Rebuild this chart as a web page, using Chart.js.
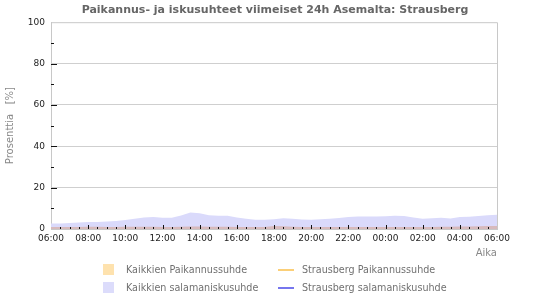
<!DOCTYPE html>
<html>
<head>
<meta charset="utf-8">
<script src="https://cdn.jsdelivr.net/npm/chart.js@4.4.1/dist/chart.umd.min.js"></script>
<style>
  body { margin: 0; background: #fff; }
  #wrap { position: relative; width: 550px; height: 300px; }
  #legend { position: absolute; left: 0; top: 0; width: 550px; height: 300px; pointer-events: none;
    font-family: "DejaVu Sans", sans-serif; font-size: 9.6px; color: #707070; }
  .item { position: absolute; white-space: nowrap; }
  .box { position: absolute; width: 11px; height: 11px; }
  .line { position: absolute; width: 16px; height: 2px; }
</style>
</head>
<body>
<div id="wrap">
  <canvas id="chart" width="550" height="300"></canvas>
  <div id="legend"></div>
</div>
<script>
const timeLabels = [
  "06:00", "06:30", "07:00", "07:30", "08:00", "08:30", "09:00", "09:30",
  "10:00", "10:30", "11:00", "11:30", "12:00", "12:30", "13:00", "13:30",
  "14:00", "14:30", "15:00", "15:30", "16:00", "16:30", "17:00", "17:30",
  "18:00", "18:30", "19:00", "19:30", "20:00", "20:30", "21:00", "21:30",
  "22:00", "22:30", "23:00", "23:30", "00:00", "00:30", "01:00", "01:30",
  "02:00", "02:30", "03:00", "03:30", "04:00", "04:30", "05:00", "05:30",
  "06:00"
];

// Kaikkien salamaniskusuhde (%)
const allStrokeRatio = [
  2.6, 2.6, 2.9, 3.2, 3.4, 3.4, 3.6, 3.9,
  4.3, 5.0, 5.6, 5.8, 5.5, 5.4, 6.5, 8.0,
  7.6, 6.6, 6.4, 6.4, 5.6, 4.9, 4.5, 4.5,
  4.7, 5.2, 5.0, 4.6, 4.5, 4.7, 5.0, 5.3,
  5.8, 6.0, 6.1, 6.1, 6.2, 6.4, 6.3, 5.6,
  5.0, 5.2, 5.4, 5.1, 5.8, 5.9, 6.3, 6.6,
  6.9
];

// Kaikkien Paikannussuhde (%)
const allLocationRatio = [
  1.0, 1.0, 1.0, 1.0, 1.1, 1.1, 1.0, 1.0,
  1.1, 1.1, 1.1, 1.1, 1.0, 1.0, 1.1, 1.2,
  1.2, 1.1, 1.1, 1.1, 1.0, 1.0, 1.0, 1.0,
  1.5, 1.3, 1.1, 1.0, 1.0, 1.0, 1.0, 1.0,
  1.0, 1.0, 1.0, 1.0, 1.0, 1.0, 1.0, 1.0,
  1.0, 1.0, 1.1, 1.1, 1.2, 1.2, 1.3, 1.4,
  1.4
];

// Strausberg: no values in the last 24h
const stationLocationRatio = [];
const stationStrokeRatio = [];

const yTickValues = [0, 20, 40, 60, 80, 100];
const yMinorValues = [10, 30, 50, 70, 90];

const legendItems = [
  { text: "Kaikkien Paikannussuhde", kind: "box", color: "#fee2ae", x: 103, y: 264 },
  { text: "Kaikkien salamaniskusuhde", kind: "box", color: "#dcdcfb", x: 103, y: 282 },
  { text: "Strausberg Paikannussuhde", kind: "line", color: "#fbcf78", x: 278, y: 264 },
  { text: "Strausberg salamaniskusuhde", kind: "line", color: "#7676ee", x: 278, y: 282 }
];

const innerTicks = {
  id: "innerTicks",
  afterDatasetsDraw(chart) {
    const { ctx, chartArea, scales } = chart;
    ctx.save();
    ctx.strokeStyle = "#111";
    ctx.lineWidth = 1;
    ctx.beginPath();
    timeLabels.forEach((t, i) => {
      if (i === 0 || i === timeLabels.length - 1) return;
      const px = Math.round(scales.x.getPixelForValue(i)) + 0.5;
      const len = i % 4 === 0 ? 4 : 2;
      ctx.moveTo(px, chartArea.bottom);
      ctx.lineTo(px, chartArea.bottom - len);
    });
    yTickValues.slice(1, -1).forEach(v => {
      const py = Math.round(scales.y.getPixelForValue(v)) + 0.5;
      ctx.moveTo(chartArea.left, py);
      ctx.lineTo(chartArea.left + 6, py);
    });
    yMinorValues.forEach(v => {
      const py = Math.round(scales.y.getPixelForValue(v)) + 0.5;
      ctx.moveTo(chartArea.left, py);
      ctx.lineTo(chartArea.left + 3, py);
    });
    ctx.stroke();
    ctx.restore();
  }
};

Chart.defaults.font.family = "'DejaVu Sans', sans-serif";
Chart.defaults.font.size = 9;
Chart.defaults.color = "#222";

new Chart(document.getElementById("chart"), {
  type: "line",
  data: {
    labels: timeLabels,
    datasets: [
      {
        label: "Kaikkien Paikannussuhde",
        data: allLocationRatio,
        backgroundColor: "rgba(214, 165, 148, 0.6)",
        borderWidth: 0,
        pointRadius: 0,
        fill: "origin",
        order: 1
      },
      {
        label: "Kaikkien salamaniskusuhde",
        data: allStrokeRatio,
        backgroundColor: "#dadafb",
        borderWidth: 0,
        pointRadius: 0,
        fill: "origin",
        order: 2
      },
      {
        label: "Strausberg Paikannussuhde",
        data: stationLocationRatio,
        borderColor: "#fbcf78",
        borderWidth: 2,
        pointRadius: 0,
        fill: false,
        order: 0
      },
      {
        label: "Strausberg salamaniskusuhde",
        data: stationStrokeRatio,
        borderColor: "#7676ee",
        borderWidth: 2,
        pointRadius: 0,
        fill: false,
        order: 0
      }
    ]
  },
  options: {
    responsive: false,
    animation: false,
    layout: { padding: { left: 0, right: 0, top: 0, bottom: 41 } },
    plugins: {
      legend: { display: false },
      tooltip: { enabled: false },
      title: {
        display: true,
        text: "Paikannus- ja iskusuhteet viimeiset 24h Asemalta: Strausberg",
        color: "#666",
        font: { size: 11, weight: "bold" },
        padding: { top: 4, bottom: 5 }
      }
    },
    scales: {
      x: {
        type: "category",
        offset: false,
        border: { color: "#c8c8c8" },
        grid: { display: false, drawTicks: false },
        ticks: {
          autoSkip: false,
          maxRotation: 0,
          padding: 4,
          callback: (v, i) => (i % 4 === 0 ? timeLabels[i] : "")
        },
        title: {
          display: true,
          text: "Aika",
          align: "end",
          color: "#888",
          font: { size: 10 },
          padding: { top: 0, bottom: 0 }
        },
        afterFit: s => { s.height = 30; }
      },
      y: {
        min: 0,
        max: 100,
        border: { color: "#c8c8c8" },
        grid: {
          drawTicks: false,
          color: ctx => (ctx.tick.value === 0 || ctx.tick.value === 100 ? "rgba(0,0,0,0)" : "#cfcfcf")
        },
        afterBuildTicks: s => { s.ticks = yTickValues.map(v => ({ value: v })); },
        ticks: { padding: 6 },
        title: {
          display: true,
          text: "Prosenttia   [%]",
          color: "#888",
          font: { size: 10 },
          padding: { top: 4, bottom: 0 }
        },
        afterFit: s => { s.width = 51; }
      },
      margin: {
        type: "linear",
        position: "right",
        display: true,
        border: { display: false },
        grid: { display: false, drawTicks: false },
        ticks: { display: false },
        afterFit: s => { s.width = 53; }
      }
    }
  },
  plugins: [
    innerTicks,
    {
      id: "frame",
      afterDraw(chart) {
        const { ctx, chartArea } = chart;
        ctx.save();
        ctx.strokeStyle = "#c8c8c8";
        ctx.lineWidth = 1;
        ctx.beginPath();
        ctx.moveTo(chartArea.left, chartArea.top + 0.5);
        ctx.lineTo(chartArea.right + 0.5, chartArea.top + 0.5);
        ctx.lineTo(chartArea.right + 0.5, chartArea.bottom);
        ctx.stroke();
        ctx.restore();
      }
    }
  ]
});

const legendEl = document.getElementById("legend");
legendItems.forEach(item => {
  const mark = document.createElement("div");
  mark.className = item.kind;
  mark.style.background = item.color;
  mark.style.left = item.x + "px";
  mark.style.top = (item.kind === "box" ? item.y : item.y + 5) + "px";
  legendEl.appendChild(mark);
  const label = document.createElement("div");
  label.className = "item";
  label.textContent = item.text;
  label.style.left = (item.x + (item.kind === "box" ? 23 : 24)) + "px";
  label.style.top = (item.y - 0.5) + "px";
  legendEl.appendChild(label);
});
</script>
</body>
</html>
